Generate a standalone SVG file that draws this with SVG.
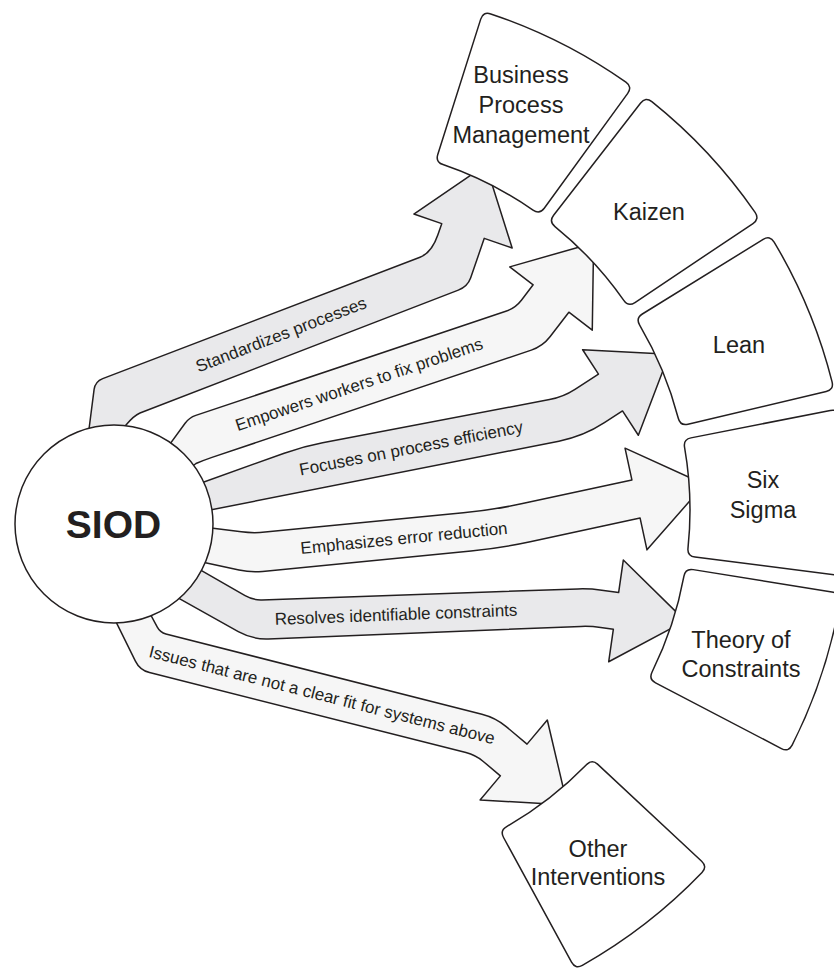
<svg xmlns="http://www.w3.org/2000/svg" width="834" height="969" viewBox="0 0 834 969">
<style>
.bg{fill:#ffffff}
.arrow{stroke:#231f20;stroke-width:1.5;stroke-linejoin:round}
.dark{fill:#e9e9eb}
.light{fill:#f6f6f6}
.lbl{font-family:"Liberation Sans",Arial,Helvetica,sans-serif;font-size:17px;fill:#231f20;text-anchor:middle}
.box{fill:#ffffff;stroke:#231f20;stroke-width:1.5}
.bt{font-family:"Liberation Sans",Arial,Helvetica,sans-serif;font-size:23.5px;fill:#231f20;text-anchor:middle}
.hub{fill:#ffffff;stroke:#231f20;stroke-width:1.5}
.ht{font-family:"Liberation Sans",Arial,Helvetica,sans-serif;font-size:39px;font-weight:bold;fill:#231f20;text-anchor:middle}
</style>
<defs>
<path id="sector" d="M 368.2 -59.64 Q 360.31 -58.36 361.5 -50.45 A 365 365 0 0 1 361.5 50.45 Q 360.31 58.36 368.2 59.64 L 508.38 82.34 Q 516.27 83.62 517.49 75.71 A 523 523 0 0 0 517.49 -75.71 Q 516.27 -83.62 508.38 -82.34 Z"/>
</defs>
<rect class="bg" x="0" y="0" width="834" height="969"/>
<g id="connectors">
  <g id="arrow-bpm">
    <path class="arrow dark" d="M 88 437 L 94.1 389.4 Q 95.2 381.5 102.7 378.6 L 420 257.2 Q 431.7 252.7 437.8 235 L 441.73 223.66 L 413.85 214.03 L 485.85 164.84 L 512.15 247.97 L 484.27 238.34 L 470.6 278 Q 467.6 286.5 458.3 290.1 L 140 413 Q 134 415.5 126 425 L 121 433 Z"/>
    <text class="lbl" transform="translate(281 334.5) rotate(-21.04)" y="5.8">Standardizes processes</text>
  </g>
  <g id="arrow-kaizen">
    <path class="arrow light" d="M 164.6 451.4 L 185.1 423.3 Q 189.2 417.6 195.8 415.4 L 505.8 311.3 Q 515.3 308.1 521.4 300.2 L 533.14 284.81 L 509.73 266.86 L 593.59 242.94 L 592.27 330.14 L 568.86 312.19 L 550 336.8 Q 542.7 346.3 531.3 350.1 L 212 457.4 Q 203 460.5 196 463.5 L 185 472 Z"/>
    <text class="lbl" transform="translate(359 384.3) rotate(-18.57)" y="5.8">Empowers workers to fix problems</text>
  </g>
  <g id="arrow-lean">
    <path class="arrow dark" d="M 190 487 L 284.2 453.2 Q 303 446.4 322.6 442.7 L 549.5 399.6 Q 563.3 397 575 389.4 L 598.49 374.05 L 582.65 349.73 L 669.21 354.27 L 638.35 435.27 L 622.51 410.95 L 604.4 422.7 Q 583.4 436.4 558.9 441.2 L 200 512 Z"/>
    <text class="lbl" transform="translate(411 448.1) rotate(-10.95)" y="5.8">Focuses on process efficiency</text>
  </g>
  <g id="arrow-sixsigma">
    <path class="arrow light" d="M 195 526 L 241.3 531.8 Q 253.2 533.3 265.1 532.1 L 463.3 512.8 Q 493.2 509.9 522.5 503.6 L 631.89 479.94 L 625.03 448.16 L 704.43 484.23 L 646.97 549.84 L 640.11 518.06 L 530.2 541.8 Q 500.9 548.1 471 551 L 262.6 571.4 Q 250.7 572.6 239 570 L 195 560.4 Z"/>
    <text class="lbl" transform="translate(404 538.1) rotate(-5.58)" y="5.8">Emphasizes error reduction</text>
  </g>
  <g id="arrow-toc">
    <path class="arrow dark" d="M 185 561.2 L 245.1 595.7 Q 252.9 600.2 261.9 599.9 L 577.9 588.9 Q 589.9 588.5 601.8 590.2 L 618.63 592.59 L 623.31 560.02 L 685.29 620.86 L 608.69 661.78 L 613.37 629.21 L 600.7 627.4 Q 590.8 626 580.8 626.4 L 268.3 638.9 Q 252.3 639.5 238.3 631.7 L 170 593.4 Z"/>
    <text class="lbl" transform="translate(396 614.5) rotate(-2.15)" y="5.8">Resolves identifiable constraints</text>
  </g>
  <g id="arrow-other">
    <path class="arrow light" d="M 144.6 603.5 L 157.3 627.2 Q 160.1 632.5 165.9 634 L 481.9 714.2 Q 495.5 717.65 506.2 726.6 L 527.03 744.12 L 547.3 719.97 L 567.28 804.98 L 480.1 800.03 L 500.37 775.88 L 483.3 761.5 Q 475.6 755.1 465.9 752.6 L 149.5 672.6 Q 139.8 670.1 135.4 661.1 L 110.1 609.8 Z"/>
    <text class="lbl" transform="translate(322 694.9) rotate(14.22)" y="5.8">Issues that are not a clear fit for systems above</text>
  </g>
</g>
<g id="node-bpm">
  <use href="#sector" class="box" transform="translate(325 510) rotate(-63.2)"/>
  <text class="bt"><tspan x="521" y="83">Business</tspan><tspan x="521" y="113">Process</tspan><tspan x="521" y="143">Management</tspan></text>
</g>
<g id="node-kaizen">
  <use href="#sector" class="box" transform="translate(325 510) rotate(-43)"/>
  <text class="bt" x="649" y="220">Kaizen</text>
</g>
<g id="node-lean">
  <use href="#sector" class="box" transform="translate(325 510) rotate(-22.5)"/>
  <text class="bt" x="739" y="353">Lean</text>
</g>
<g id="node-sixsigma">
  <use href="#sector" class="box" transform="translate(325 510) rotate(-1.95)"/>
  <text class="bt"><tspan x="763" y="488">Six</tspan><tspan x="763" y="518">Sigma</tspan></text>
</g>
<g id="node-toc">
  <use href="#sector" class="box" transform="translate(325 510) rotate(18.4)"/>
  <text class="bt"><tspan x="741" y="648">Theory of</tspan><tspan x="741" y="677">Constraints</tspan></text>
</g>
<g id="node-other">
  <use href="#sector" class="box" transform="translate(325 510) rotate(52.2)"/>
  <text class="bt"><tspan x="598" y="857">Other</tspan><tspan x="598" y="885">Interventions</tspan></text>
</g>
<g id="node-siod">
  <circle class="hub" cx="114" cy="524" r="99"/>
  <text class="ht" x="113.5" y="538">SIOD</text>
</g>
</svg>
